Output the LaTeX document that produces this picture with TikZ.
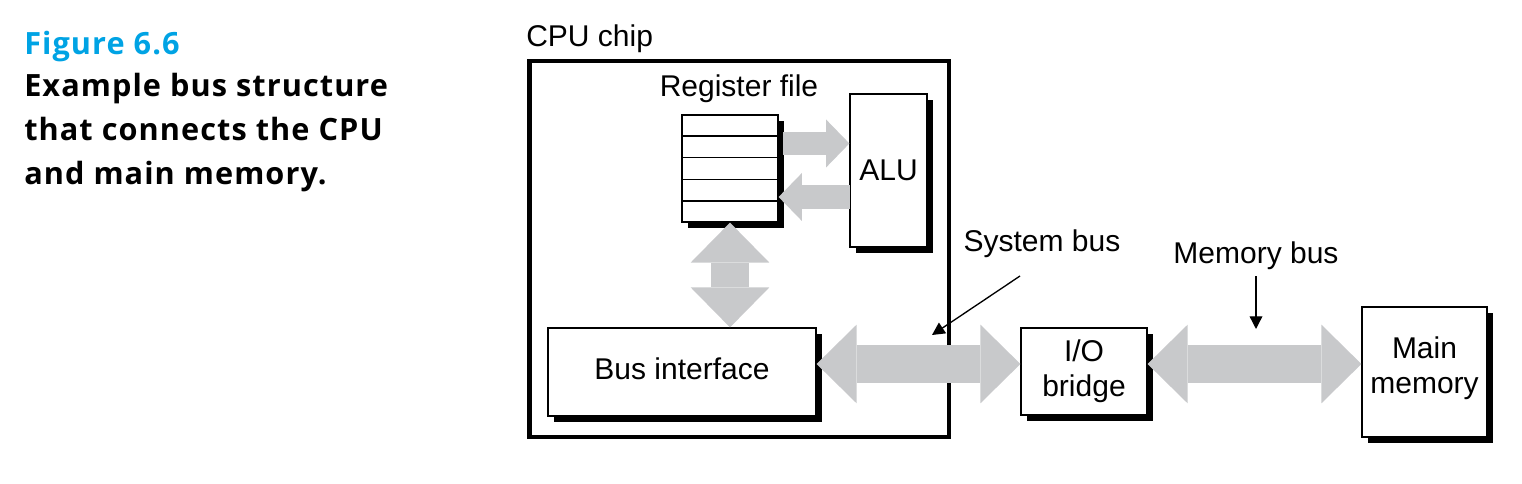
\documentclass[tikz,border=0pt]{standalone}
\usepackage{fontspec}
\setmainfont{Liberation Sans}
\newfontfamily\capfont[LetterSpace=3.5]{Open Sans}
\usetikzlibrary{arrows.meta,shadows,calc}
\definecolor{busgray}{RGB}{200,201,203}
\definecolor{figblue}{RGB}{0,163,228}

\begin{document}
\begin{tikzpicture}[x=0.75pt,y=0.75pt,yscale=-1,xscale=1,
  box/.style={draw,line width=0.9pt,fill=white,inner sep=0pt,align=center,
    font=\fontsize{22.5}{26.5}\selectfont,
    drop shadow={shadow xshift=4.2pt,shadow yshift=-4.2pt,fill=black,opacity=1}},
  lbl/.style={inner sep=0pt,align=center,font=\fontsize{22.5}{26}\selectfont},
  caption/.style={inner sep=0pt,anchor=base west,font=\capfont\bfseries\fontsize{23}{26}\selectfont},
  fatbus/.style={draw=busgray,line width=29pt,
    {Triangle[length=30pt,width=59pt,line width=0pt]}-{Triangle[length=30pt,width=59pt,line width=0pt]}},
  regbus/.style={draw=busgray,line width=17.5pt,
    -{Triangle[length=17.5pt,width=36pt,line width=0pt]}},
  pointer/.style={line width=1pt,-{Triangle[length=9.5pt,width=9.5pt]}}
]
\useasboundingbox (0,0) rectangle (1522,484);

% Caption
\node[caption,text=figblue] (cap1) at (24,55) {Figure 6.6};
\node[caption] (cap2) at (24,97) {Example bus structure};
\node[caption] (cap3) at (24,141) {that connects the CPU};
\node[caption] (cap4) at (24,185) {and main memory.};

% CPU chip
\node[draw,line width=3.6pt,minimum width=314.6pt,minimum height=282pt,inner sep=0pt] (cpu) at (739.25,249) {};
\node[lbl,anchor=base west] (cpulbl) at (526,47) {CPU chip};

% Register file and ALU
\node[box,minimum width=72pt,minimum height=80.25pt] (rf) at (730,168.5) {};
\foreach \k in {1,...,4}
  \draw[line width=0.9pt] ($(rf.north west)!\k/5!(rf.south west)$) -- ($(rf.north east)!\k/5!(rf.south east)$);
\node[lbl] (rflbl) at (739,89) {Register file};
\node[box,minimum width=57.75pt,minimum height=114.75pt] (alu) at (888.5,170.5) {ALU};

% Bus interface, I/O bridge, main memory
\node[box,minimum width=201pt,minimum height=66pt] (bi) at (682,372) {\raisebox{5.5pt}{Bus interface}};
\node[box,minimum width=94.5pt,minimum height=65.25pt] (io) at (1084,371.5) {I/O\\bridge};
\node[box,minimum width=93.75pt,minimum height=97.5pt] (mm) at (1424.5,372) {};
\node[lbl] (mmlbl) at ([yshift=-3pt]mm.center) {Main\\memory};

% Buses
\coordinate (aluin) at (783,143.5);
\coordinate (aluout) at (850,197);
\draw[regbus] (aluin) -- (alu.west |- aluin);
\draw[regbus] (aluout) -- (rf.east |- aluout);
\draw[fatbus] (rf.south) -- (rf.south |- bi.north);
\draw[fatbus] (bi.east |- 0,364) -- (io.west |- 0,364);
\draw[fatbus] (io.east |- 0,364) -- (mm.west |- 0,364);

% Bus labels
\node[lbl] (sysbus) at (1042,244) {System bus};
\node[lbl] (membus) at (1256,256) {Memory bus};
\coordinate (systip) at (932,335);
\coordinate (memtip) at (1256,329);
\draw[pointer] (1020,276) -- (systip);
\draw[pointer] (membus.south) ++(0,6) -- (memtip);

\end{tikzpicture}
\end{document}
